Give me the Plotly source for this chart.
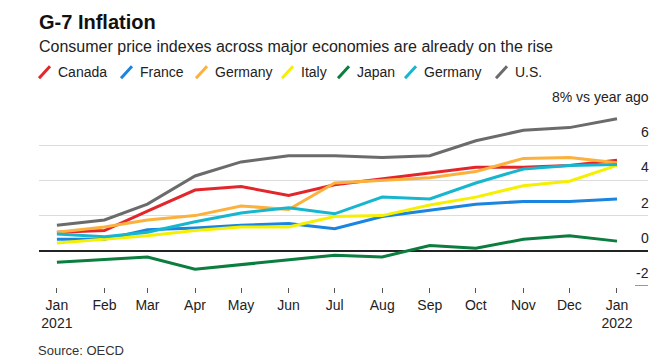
import plotly.graph_objects as go

months = ["2021-01-01", "2021-02-01", "2021-03-01", "2021-04-01", "2021-05-01", "2021-06-01",
          "2021-07-01", "2021-08-01", "2021-09-01", "2021-10-01", "2021-11-01", "2021-12-01",
          "2022-01-01"]
tick_labels = ["Jan<br>2021", "Feb", "Mar", "Apr", "May", "Jun", "Jul", "Aug", "Sep",
               "Oct", "Nov", "Dec", "Jan<br>2022"]

canada = [1.05, 1.15, 2.25, 3.45, 3.65, 3.15, 3.75, 4.1, 4.45, 4.75, 4.75, 4.85, 5.15]
france = [0.65, 0.65, 1.2, 1.3, 1.45, 1.55, 1.25, 1.95, 2.3, 2.65, 2.8, 2.8, 2.95]
germany = [1.05, 1.35, 1.75, 2.0, 2.55, 2.35, 3.85, 4.0, 4.15, 4.5, 5.25, 5.3, 5.0]
italy = [0.45, 0.65, 0.85, 1.15, 1.35, 1.35, 1.95, 2.0, 2.6, 3.05, 3.7, 3.95, 4.85]
japan = [-0.65, -0.5, -0.35, -1.05, -0.8, -0.5, -0.25, -0.35, 0.3, 0.15, 0.65, 0.85, 0.55]
germany2 = [0.95, 0.8, 1.05, 1.65, 2.15, 2.45, 2.1, 3.05, 2.95, 3.85, 4.65, 4.85, 4.9]
us = [1.45, 1.75, 2.65, 4.25, 5.05, 5.4, 5.4, 5.3, 5.4, 6.25, 6.85, 7.0, 7.5]

series_names = ["Canada", "France", "Germany", "Italy", "Japan", "Germany", "U.S."]
series_values = [canada, france, germany, italy, japan, germany2, us]
series_colors = ["#e3262b", "#1a85e0", "#fbb13c", "#f5f000", "#0b7d3e", "#17b6cf", "#6b6b6b"]

y_ticks = [-2, 0, 2, 4, 6, 8]
y_text = ["-2", "0", "2", "4", "6", "8% vs year ago"]

# the page body adds an 8px offset; figure is sized so it ends at the window edge
OFF = 8
W, H = 670 - OFF, 362 - OFF
L = 39 - OFF
R = 670 - 648
T = 110.3 - OFF
B = H - (286.5 - OFF)
PW, PH = W - L - R, H - T - B


def px(xs):
    return (xs - OFF - L) / PW


def py(ys):
    return (H - B - (ys - OFF)) / PH


FONT = "Liberation Sans, Arial, sans-serif"
fig = go.Figure()
for name, vals, col in zip(series_names, series_values, series_colors):
    fig.add_trace(go.Scatter(x=months, y=vals, mode="lines", name=name,
                             line=dict(color=col, width=3), showlegend=False,
                             hoverinfo="skip"))

# manual legend (slash markers + labels)
legend_slash_x = [38, 120, 195, 281, 337, 404, 495]
shapes = []
annotations = []
for sx, name, col in zip(legend_slash_x, series_names, series_colors):
    shapes.append(dict(type="line", xref="paper", yref="paper",
                       x0=px(sx + 1), y0=py(78.5), x1=px(sx + 12), y1=py(66.5),
                       line=dict(color=col, width=3)))
    annotations.append(dict(text=name, xref="paper", yref="paper", x=px(sx + 18),
                            y=py(72.5), xanchor="left", yanchor="middle", showarrow=False,
                            font=dict(size=14, color="#222")))

# y tick labels sit above their gridlines, right-aligned at the plot edge
for val, txt in zip(y_ticks, y_text):
    annotations.append(dict(text=txt, xref="paper", yref="y", x=px(651), y=val,
                            xanchor="right", yanchor="middle", yshift=13,
                            showarrow=False, font=dict(size=14, color="#222")))

shapes.append(dict(type="line", xref="paper", yref="y", x0=px(635), x1=1.0, y0=-2, y1=-2,
                   line=dict(color="#999", width=2), layer="above"))

annotations += [
    dict(text="<b>G-7 Inflation</b>", xref="paper", yref="paper",
         x=px(37), y=py(22), xanchor="left", yanchor="middle",
         showarrow=False, font=dict(size=20, color="#111")),
    dict(text="Consumer price indexes across major economies are already on the rise",
         xref="paper", yref="paper", x=px(37), y=py(47),
         xanchor="left", yanchor="middle", showarrow=False,
         font=dict(size=16, color="#222")),
    dict(text="Source: OECD", xref="paper", yref="paper", x=px(36),
         y=py(351), xanchor="left", yanchor="middle", showarrow=False,
         font=dict(size=13, color="#333")),
]

fig.update_layout(
    width=W, height=H,
    margin=dict(l=L, r=R, t=T, b=B, autoexpand=False),
    paper_bgcolor="white", plot_bgcolor="white",
    font=dict(family=FONT, size=14, color="#222"),
    showlegend=False,
    xaxis=dict(type="date", range=["2020-12-20 08:00", "2022-01-21 05:00"],
               tickvals=months, ticktext=tick_labels, showgrid=False,
               ticks="outside", ticklen=5, tickwidth=1.3, tickcolor="#555",
               showline=True, linecolor="white", linewidth=2,
               tickfont=dict(size=14, color="#222"), zeroline=False),
    yaxis=dict(range=[-2, 8], tickvals=y_ticks, showticklabels=False, side="right",
               showgrid=True, gridcolor="#dcdcdc", gridwidth=1.3,
               zeroline=True, zerolinecolor="#222", zerolinewidth=1.5, ticks=""),
    shapes=shapes,
    annotations=annotations,
)

fig.write_html("out.html")
